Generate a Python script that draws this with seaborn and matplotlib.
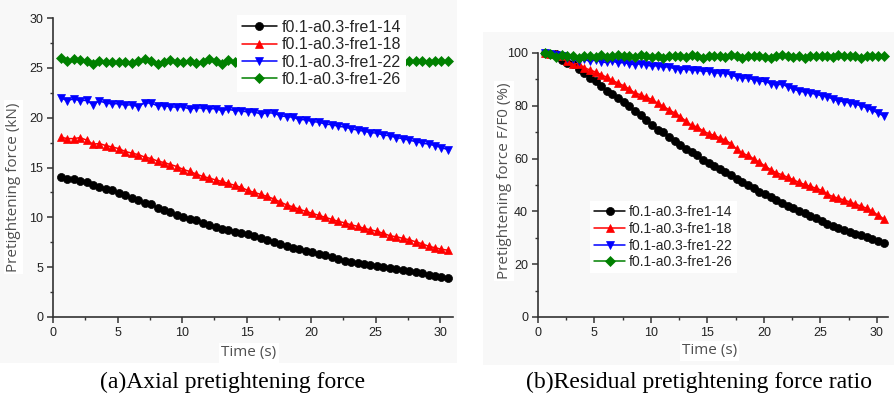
# Pretightening force vs time - two panels
import numpy as np
import pandas as pd
import matplotlib
matplotlib.use("Agg")
import matplotlib.pyplot as plt
from matplotlib.patches import Rectangle
from matplotlib.ticker import MultipleLocator
import seaborn as sns

# --- data ---
time_s = [0.6, 1.1, 1.6, 2.1, 2.6, 3.1, 3.6, 4.1, 4.6, 5.1, 5.6, 6.1, 6.6, 7.1, 7.6,
          8.1, 8.6, 9.1, 9.6, 10.1, 10.6, 11.1, 11.6, 12.1, 12.6, 13.1, 13.6, 14.1,
          14.6, 15.1, 15.6, 16.1, 16.6, 17.1, 17.6, 18.1, 18.6, 19.1, 19.6, 20.1,
          20.6, 21.1, 21.6, 22.1, 22.6, 23.1, 23.6, 24.1, 24.6, 25.1, 25.6, 26.1,
          26.6, 27.1, 27.6, 28.1, 28.6, 29.1, 29.6, 30.1, 30.6]

series_names = ["f0.1-a0.3-fre1-14", "f0.1-a0.3-fre1-18",
                "f0.1-a0.3-fre1-22", "f0.1-a0.3-fre1-26"]

# (a) axial force, kN
force_14 = [14.0, 13.85, 13.8, 13.6, 13.5, 13.2, 13.05, 12.8, 12.7, 12.4, 12.2, 11.9,
            11.7, 11.45, 11.3, 10.95, 10.75, 10.5, 10.2, 10.0, 9.8, 9.7, 9.45, 9.2,
            9.05, 8.82, 8.7, 8.55, 8.45, 8.3, 8.1, 7.9, 7.7, 7.5, 7.3, 7.15, 6.95,
            6.82, 6.65, 6.5, 6.35, 6.2, 6.05, 5.85, 5.65, 5.5, 5.4, 5.3, 5.2, 5.08,
            5.0, 4.9, 4.78, 4.68, 4.57, 4.47, 4.37, 4.25, 4.12, 4.0, 3.92]
force_18 = [18.05, 17.9, 17.9, 18.0, 17.75, 17.35, 17.4, 17.2, 17.05, 16.9, 16.6,
            16.45, 16.3, 16.05, 15.9, 15.65, 15.5, 15.3, 15.1, 14.8, 14.6, 14.35,
            14.1, 13.95, 13.75, 13.6, 13.4, 13.2, 13.0, 12.7, 12.5, 12.3, 12.1,
            11.85, 11.55, 11.25, 11.05, 10.8, 10.6, 10.4, 10.2, 10.0, 9.8, 9.6,
            9.45, 9.25, 9.1, 8.9, 8.75, 8.6, 8.4, 8.15, 8.05, 7.9, 7.75, 7.55, 7.35,
            7.1, 6.95, 6.8, 6.7]
force_22 = [22.0, 21.7, 21.9, 21.7, 21.75, 21.3, 21.7, 21.45, 21.4, 21.4, 21.25,
            21.3, 21.1, 21.5, 21.45, 21.2, 21.2, 21.1, 21.05, 21.1, 20.85, 21.0,
            20.95, 20.9, 20.9, 20.7, 20.85, 20.7, 20.7, 20.55, 20.6, 20.35, 20.5,
            20.45, 20.2, 20.1, 20.05, 19.8, 19.8, 19.6, 19.55, 19.35, 19.3, 19.15,
            19.05, 18.9, 18.75, 18.65, 18.5, 18.45, 18.25, 18.2, 18.0, 17.9, 17.75,
            17.6, 17.45, 17.35, 17.2, 17.0, 16.8]
force_26 = [26.0, 25.65, 25.85, 25.75, 25.65, 25.4, 25.7, 25.55, 25.6, 25.6, 25.55,
            25.5, 25.7, 25.85, 25.7, 25.4, 25.6, 25.75, 25.6, 25.6, 25.65, 25.5,
            25.6, 25.9, 25.7, 25.4, 25.75, 25.6, 25.7, 25.55, 25.6, 25.75, 25.5,
            25.65, 25.6, 25.7, 25.55, 25.6, 25.75, 25.5, 25.65, 25.6, 25.7, 25.5,
            25.65, 25.6, 25.75, 25.55, 25.6, 25.7, 25.5, 25.6, 25.85, 25.5, 25.7,
            25.65, 25.65, 25.6, 25.7, 25.65, 25.65]

# (b) residual ratio F/F0, %
ratio_14 = [100, 99.8, 99.5, 97.5, 96.2, 96.0, 93.8, 92.6, 90.6, 89.3, 87.5, 85.5,
            84.3, 82.8, 81.3, 79.8, 78.2, 76.5, 74.8, 72.8, 71.0, 70.0, 68.3, 66.8,
            65.3, 63.8, 62.4, 61.2, 59.6, 58.4, 57.3, 56.2, 55.0, 53.7, 52.3, 51.0,
            50.0, 48.7, 47.5, 46.5, 45.4, 44.5, 43.2, 42.2, 41.2, 40.1, 39.3, 38.4,
            37.6, 36.4, 35.4, 34.4, 33.6, 33.0, 32.3, 31.6, 31.0, 30.3, 29.5, 28.8,
            28.2]
ratio_18 = [100, 99.8, 99.6, 98.8, 97.0, 95.8, 96.0, 94.4, 93.6, 92.8, 91.8, 90.8,
            89.6, 88.6, 87.6, 86.3, 84.8, 84.2, 83.2, 82.4, 81.0, 79.8, 78.5, 77.3,
            75.9, 74.2, 72.6, 72.0, 70.5, 69.5, 68.8, 67.8, 67.0, 65.6, 63.6, 62.0,
            61.2, 59.9, 58.6, 57.2, 55.8, 54.6, 53.9, 52.9, 52.0, 51.0, 50.2, 49.5,
            48.8, 48.0, 46.6, 45.6, 45.0, 44.3, 43.6, 42.8, 42.0, 41.2, 40.0, 38.6,
            37.2]
ratio_22 = [100, 99.6, 99.4, 99.0, 98.2, 97.6, 97.0, 97.6, 96.8, 97.4, 96.6, 96.4,
            97.0, 96.2, 96.4, 95.8, 95.6, 96.0, 95.4, 95.0, 95.2, 94.6, 94.8, 94.0,
            93.6, 94.0, 93.4, 93.5, 93.0, 93.2, 92.6, 92.3, 92.5, 91.6, 91.0, 90.4,
            90.6, 89.8, 89.4, 89.2, 88.4, 87.9, 88.2, 87.2, 86.4, 85.6, 85.2, 84.8,
            84.4, 83.8, 83.4, 82.6, 81.8, 81.6, 81.0, 80.6, 80.0, 79.2, 78.3, 77.2,
            76.2]
ratio_26 = [100, 99.6, 98.6, 99.2, 98.8, 99.0, 98.2, 99.0, 98.8, 98.6, 99.2, 98.4,
            98.9, 99.3, 98.7, 98.9, 98.3, 99.1, 98.8, 98.6, 99.0, 98.2, 99.0, 98.8,
            98.9, 98.5, 99.3, 98.7, 98.2, 99.0, 98.8, 98.9, 98.4, 99.3, 98.9, 98.2,
            99.0, 98.8, 98.9, 98.6, 98.2, 99.0, 99.3, 98.8, 98.6, 98.9, 98.2, 98.8,
            99.0, 98.7, 98.9, 98.3, 99.2, 99.0, 98.7, 98.9, 98.2, 98.8, 99.0, 98.9,
            98.7]

colors = ["#000000", "#ff0000", "#0000ff", "#008000"]
marker_list = ["o", "^", "v", "D"]


def long_table(series_values, value_name):
    frames = []
    for name, vals in zip(series_names, series_values):
        frames.append(pd.DataFrame({"time": time_s, value_name: vals, "series": name}))
    return pd.concat(frames, ignore_index=True)


df_force = long_table([force_14, force_18, force_22, force_26], "force")
df_ratio = long_table([ratio_14, ratio_18, ratio_22, ratio_26], "ratio")

sns.set_style("ticks")
plt.rcParams["font.family"] = ["Liberation Sans", "DejaVu Sans"]

fig = plt.figure(figsize=(8.95, 3.96), dpi=100)
fig.patch.set_facecolor("white")
# faint grey panel backgrounds of the original screenshot
fig.patches.append(Rectangle((0, 0.083), 0.511, 0.917, transform=fig.transFigure,
                             facecolor="#f8f8f8", edgecolor="none", zorder=-5))
fig.patches.append(Rectangle((0.54, 0.078), 0.46, 0.841, transform=fig.transFigure,
                             facecolor="#f8f8f8", edgecolor="none", zorder=-5))

ax1 = fig.add_axes([0.0592, 0.1995, 0.447, 0.755])
ax2 = fig.add_axes([0.601, 0.1995, 0.3914, 0.6667])

label_font = dict(family=["Open Sans", "DejaVu Sans"], fontsize=11, color="#505050")
white_box = dict(facecolor="white", edgecolor="none", pad=1.5)


def draw_panel(ax, data, ycol, ylim, ymajor, yminor, leg_anchor, leg_size, leg_space):
    sns.lineplot(data=data, x="time", y=ycol, hue="series", style="series",
                 palette=colors, markers=marker_list, dashes=False, ax=ax,
                 legend=False, linewidth=1.1, markersize=5.8,
                 markeredgewidth=0.5, clip_on=False, estimator=None)
    for ln in ax.lines:
        ln.set_markeredgecolor(ln.get_color())
    for ln in ax.lines[3:4]:
        ln.set_markersize(5.2)
    ax.set_facecolor("none")
    ax.set_xlim(0, 31)
    ax.set_ylim(*ylim)
    ax.xaxis.set_major_locator(MultipleLocator(5))
    ax.xaxis.set_minor_locator(MultipleLocator(2.5))
    ax.yaxis.set_major_locator(MultipleLocator(ymajor))
    ax.yaxis.set_minor_locator(MultipleLocator(yminor))
    sns.despine(ax=ax)
    for sp in ["left", "bottom"]:
        ax.spines[sp].set_linewidth(1.2)
        ax.spines[sp].set_color("#333333")
    ax.tick_params(which="major", direction="out", length=4.5, width=1.1,
                   color="#333333", labelsize=9, labelcolor="#222222", pad=2.5)
    ax.tick_params(which="minor", direction="out", length=2.5, width=1.0,
                   color="#333333")
    ax.set_xlabel("Time (s)", bbox=white_box, **label_font)
    leg = ax.legend(handles=ax.lines[:4], labels=series_names, loc="upper left",
                    bbox_to_anchor=leg_anchor, fontsize=leg_size, frameon=True,
                    handlelength=2.2, handletextpad=0.3, labelspacing=leg_space,
                    borderpad=0.3, borderaxespad=0.0, fancybox=False)
    leg.get_frame().set_facecolor("white")
    leg.get_frame().set_edgecolor("none")
    leg.get_frame().set_alpha(1.0)
    leg.set_zorder(5)


draw_panel(ax1, df_force, "force", (0, 30), 5, 2.5, (0.46, 1.01), 11.5, 0.15)
ax1.set_ylabel("Pretightening force (kN)", bbox=white_box, **label_font)
ax1.yaxis.set_label_coords(-0.08, 0.435)
ax1.xaxis.set_label_coords(0.49, -0.095)

draw_panel(ax2, df_ratio, "ratio", (0, 100), 20, 10, (0.149, 0.44), 10, 0.2)
ax2.set_ylabel("Pretightening force F/F0 (%)", bbox=white_box, **label_font)
ax2.yaxis.set_label_coords(-0.075, 0.515)
ax2.xaxis.set_label_coords(0.49, -0.1)

caption_font = dict(family=["Liberation Serif", "DejaVu Serif"], fontsize=17,
                    color="black", ha="center", va="center")
fig.text(233 / 895, 1 - 382 / 396, "(a)Axial pretightening force", **caption_font)
fig.text(699 / 895, 1 - 382 / 396, "(b)Residual pretightening force ratio", **caption_font)

fig.savefig("out.png", dpi=100, facecolor=fig.get_facecolor())
